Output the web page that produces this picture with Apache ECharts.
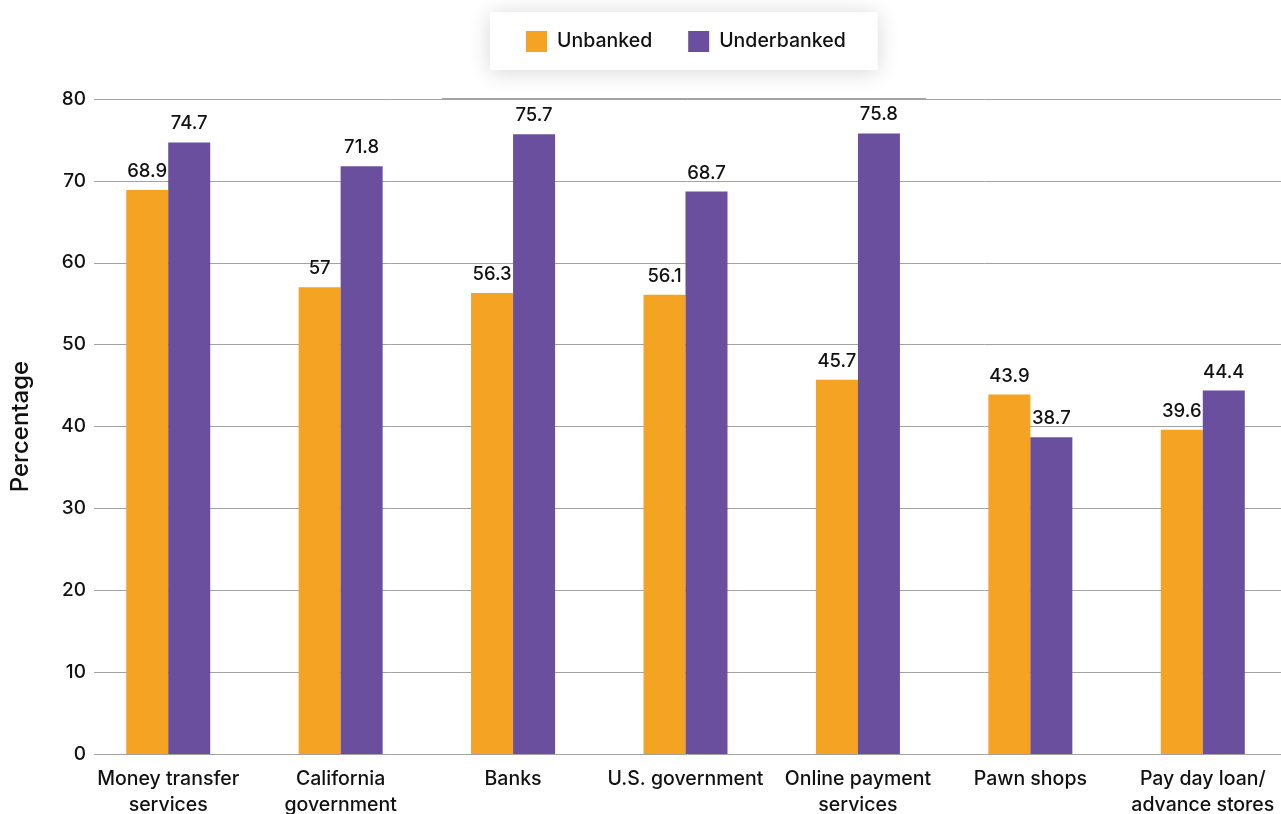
<!DOCTYPE html>
<html>
<head>
<meta charset="utf-8">
<style>
  html, body { margin: 0; padding: 0; background: #fff; }
  #chart { width: 1281px; height: 814px; }
</style>
<script src="https://cdn.jsdelivr.net/npm/echarts@6/dist/echarts.min.js"></script>
</head>
<body>
<div id="chart"></div>
<script>
// Trust in financial service providers, by banking status
const categories = [
  'Money transfer\nservices',
  'California\ngovernment',
  'Banks',
  'U.S. government',
  'Online payment\nservices',
  'Pawn shops',
  'Pay day loan/\nadvance stores'
];
const unbanked = [68.9, 57, 56.3, 56.1, 45.7, 43.9, 39.6];
const underbanked = [74.7, 71.8, 75.7, 68.7, 75.8, 38.7, 44.4];
const seriesNames = ['Unbanked', 'Underbanked'];
const yMin = 0, yMax = 80, yStep = 10;

const FONT = 'Inter, "Liberation Sans", Arial, sans-serif';
const WEIGHT = 500;
const ORANGE = '#F4A322';
const PURPLE = '#6A4F9E';
const GRID_COLOR = '#a2a2a2';

const chart = echarts.init(document.getElementById('chart'), null, { renderer: 'canvas' });

const barLabel = {
  show: true,
  position: 'top',
  distance: 9,
  fontFamily: FONT,
  fontWeight: WEIGHT,
  fontSize: 18.5,
  color: '#111'
};

chart.setOption({
  backgroundColor: '#fff',
  animation: false,
  textStyle: { fontFamily: FONT, fontWeight: WEIGHT },
  legend: {
    data: seriesNames,
    left: 490,
    top: 12,
    orient: 'horizontal',
    itemWidth: 21,
    itemHeight: 21,
    itemGap: 36,
    icon: 'rect',
    padding: [19, 32, 18, 36],
    backgroundColor: '#fff',
    shadowColor: 'rgba(0,0,0,0.16)',
    shadowBlur: 22,
    shadowOffsetY: 2,
    textStyle: { fontFamily: FONT, fontWeight: WEIGHT, fontSize: 19.5, color: '#111', padding: [0, 0, 0, 5] }
  },
  grid: [
    // value-axis grid (gridlines + tick labels)
    { left: 94, right: 0, top: 99, bottom: 60, outerBoundsMode: 'none', containLabel: false },
    // bar grid
    { left: 82, width: 1207, top: 99, bottom: 60, outerBoundsMode: 'none', containLabel: false }
  ],
  xAxis: [
    { type: 'value', gridIndex: 0, show: false, min: 0, max: 1 },
    {
      type: 'category',
      gridIndex: 1,
      data: categories,
      axisLine: { show: false },
      axisTick: { show: false },
      axisLabel: {
        fontFamily: FONT,
        fontWeight: WEIGHT,
        fontSize: 19.5,
        lineHeight: 26,
        color: '#111',
        margin: 12,
        interval: 0
      }
    }
  ],
  yAxis: [
    {
      type: 'value',
      gridIndex: 0,
      min: yMin,
      max: yMax,
      interval: yStep,
      name: 'Percentage',
      nameLocation: 'middle',
      nameRotate: 90,
      nameGap: 61,
      nameTextStyle: { fontFamily: FONT, fontWeight: WEIGHT, fontSize: 24, color: '#111' },
      axisLine: { show: false },
      axisTick: { show: false },
      axisLabel: { fontFamily: FONT, fontWeight: WEIGHT, fontSize: 19, color: '#111', margin: 8 },
      splitLine: { show: true, lineStyle: { color: GRID_COLOR, width: 1 } }
    },
    {
      type: 'value',
      gridIndex: 1,
      min: yMin,
      max: yMax,
      interval: yStep,
      show: false,
      splitLine: { show: false }
    }
  ],
  series: [
    {
      name: seriesNames[0],
      type: 'bar',
      xAxisIndex: 1,
      yAxisIndex: 1,
      data: unbanked,
      barWidth: 42,
      barGap: '0%',
      itemStyle: { color: ORANGE },
      label: barLabel
    },
    {
      name: seriesNames[1],
      type: 'bar',
      xAxisIndex: 1,
      yAxisIndex: 1,
      data: underbanked,
      barWidth: 42,
      barGap: '0%',
      itemStyle: { color: PURPLE },
      label: barLabel
    }
  ],
  graphic: [
    {
      type: 'line',
      silent: true,
      z: -1,
      shape: { x1: 442, y1: 98.5, x2: 926, y2: 98.5 },
      style: { stroke: GRID_COLOR, lineWidth: 1 }
    }
  ]
});
</script>
</body>
</html>
